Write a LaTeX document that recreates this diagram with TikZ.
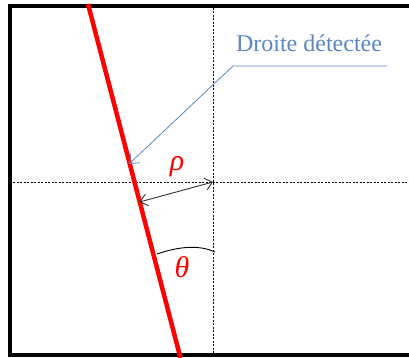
\documentclass[tikz,border=0pt]{standalone}
\usepackage{fontspec}
\setmainfont{Liberation Serif}
\newfontfamily\greekfont{Liberation Serif}
\usetikzlibrary{arrows.meta}
\definecolor{calloutblue}{HTML}{5A86C5}
\definecolor{arrowgray}{HTML}{333333}
\tikzset{
  frameline/.style={line width=4pt, black},
  guide/.style={black, line width=0.6pt, dash pattern=on 2pt off 1.5pt},
  detected/.style={red, line width=4.5pt},
  dimarrow/.style={arrowgray, line width=0.9pt, {Straight Barb[length=7pt,width=12pt]}-{Straight Barb[length=7pt,width=12pt]}},
  callout/.style={calloutblue, line width=0.8pt},
  redlabel/.style={red, inner sep=0pt, font=\greekfont\itshape\fontsize{30}{30}\selectfont}
}
\begin{document}
\begin{tikzpicture}[x=1pt,y=-1pt]
\useasboundingbox (0,0) rectangle (409,358);
\clip (0,0) rectangle (409,358);
% frame
\coordinate (fTR) at (430,6);
\coordinate (fTL) at (10,6);
\coordinate (fBL) at (10,355);
\coordinate (fBR) at (430,355);
\draw[frameline] (fTR) -- (fTL) -- (fBL) -- (fBR);
% guide lines
\coordinate (vTop) at (213,8);
\coordinate (vBot) at (213,353);
\coordinate (hL) at (13,182);
\coordinate (hR) at (409,182);
\draw[guide] (vTop) -- (vBot);
\draw[guide] (hL) -- (hR);
% detected line
\coordinate (rTop) at (88,4);
\coordinate (rBot) at (180.5,358);
\draw[detected] (rTop) -- (rBot);
% rho
\coordinate (O) at (213,182);
\coordinate (foot) at (139.5,202);
\draw[dimarrow] (foot) -- (O);
\node[redlabel] (rho) at (177,167) {ρ};
% theta
\coordinate (a1) at (157,254);
\coordinate (a2) at (215,252);
\draw[black, line width=0.9pt] (a1) .. controls (180,246) and (200,245) .. (a2);
\node[redlabel] (theta) at (182,267) {θ};
% callout
\node[calloutblue, inner sep=0pt, anchor=base, font=\fontsize{24}{24}\selectfont] (txt) at (309,52) {Droite détectée};
\coordinate (u1) at (387,66);
\coordinate (u2) at (233,66);
\coordinate (tip) at (129,164);
\draw[callout, -{Straight Barb[length=8pt,width=13pt]}] (u1) -- (u2) -- (tip);
\end{tikzpicture}
\end{document}
